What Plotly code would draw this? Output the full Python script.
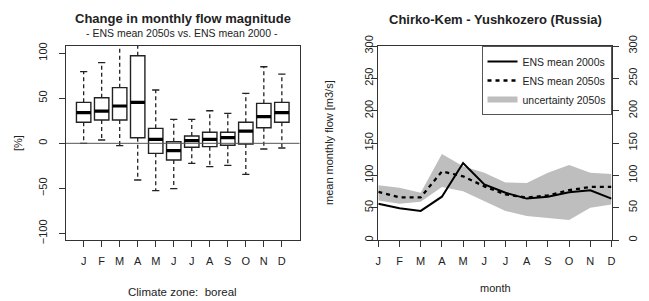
import plotly.graph_objects as go

# ---------------- data ----------------
months = list(range(1, 13))
month_labels = ["J", "F", "M", "A", "M", "J", "J", "A", "S", "O", "N", "D"]

# left: change in monthly flow magnitude [%] (box statistics)
box_low = [0, 3.7, -2.6, -40.7, -52.5, -50.3, -22.2, -25.9, -24.4, -34.4, -6.3, -5.2]
box_q1 = [23.3, 25.8, 25.8, 6.2, -11.1, -18.5, -4.4, -3.7, -2.2, -0.8, 17.3, 23.3]
box_med = [34, 35.8, 41.4, 45.4, 4.4, -8.2, 2.9, 4.4, 6.2, 13.6, 29.5, 34]
box_q3 = [45.4, 50.6, 61.7, 97.1, 16.6, 1.8, 8.1, 12.2, 12.2, 23.3, 44.3, 45.4]
box_high = [79.4, 89.4, 125, 112, 59.1, 26.6, 26.6, 36.1, 33.3, 55.4, 84.9, 76.8]

# right: mean monthly flow [m3/s]
ens_2000s = [56, 49, 45, 67, 119, 86, 73, 64, 67, 74, 77, 64]
ens_2050s = [74.5, 66, 66, 106, 98.5, 83, 70.5, 65.5, 69, 77, 82, 82]
unc_high = [84.7, 80.7, 73, 133, 114, 104, 89, 88, 104, 116, 104, 102]
unc_low = [61, 56, 59, 82, 75.5, 60, 45, 37, 33.6, 31, 50, 55]

left_yticks = [-100, -50, 0, 50, 100]
right_yticks = [0, 50, 100, 150, 200, 250, 300]

# ---------------- style ----------------
FONT = "Liberation Sans, Arial, sans-serif"
INK = "#222222"
BOXW = 0.8
CAPW = 0.4

fig = go.Figure()

# whiskers (dashed)
wx, wy = [], []
for m, lo, a, b, hi in zip(months, box_low, box_q1, box_q3, box_high):
    wx += [m, m, None, m, m, None]
    wy += [b, hi, None, a, lo, None]
fig.add_trace(go.Scatter(x=wx, y=wy, mode="lines", xaxis="x", yaxis="y",
                         line=dict(color=INK, width=1.3, dash="4px,3px"),
                         showlegend=False, hoverinfo="skip"))
# caps
cx, cy = [], []
for m, lo, hi in zip(months, box_low, box_high):
    cx += [m - CAPW / 2, m + CAPW / 2, None, m - CAPW / 2, m + CAPW / 2, None]
    cy += [hi, hi, None, lo, lo, None]
fig.add_trace(go.Scatter(x=cx, y=cy, mode="lines", xaxis="x", yaxis="y",
                         line=dict(color=INK, width=1.3),
                         showlegend=False, hoverinfo="skip"))
# boxes
fig.add_trace(go.Box(x=months, q1=box_q1, median=box_med, q3=box_q3,
                     lowerfence=box_q1, upperfence=box_q3,
                     width=BOXW, fillcolor="white",
                     line=dict(color=INK, width=1.4),
                     whiskerwidth=0, boxpoints=False,
                     xaxis="x", yaxis="y", showlegend=False, hoverinfo="skip"))
# thick medians
mx, my = [], []
for m, md in zip(months, box_med):
    mx += [m - BOXW / 2, m + BOXW / 2, None]
    my += [md, md, None]
fig.add_trace(go.Scatter(x=mx, y=my, mode="lines", xaxis="x", yaxis="y",
                         line=dict(color="black", width=3.2),
                         showlegend=False, hoverinfo="skip"))

# right: uncertainty band
fig.add_trace(go.Scatter(x=months, y=unc_low, mode="lines", xaxis="x2", yaxis="y2",
                         line=dict(width=0, color="#BEBEBE"),
                         showlegend=False, hoverinfo="skip"))
fig.add_trace(go.Scatter(x=months, y=unc_high, mode="lines", xaxis="x2", yaxis="y2",
                         line=dict(width=0, color="#BEBEBE"), fill="tonexty",
                         fillcolor="#BEBEBE", showlegend=False, hoverinfo="skip"))
fig.add_trace(go.Scatter(x=months, y=ens_2000s, mode="lines", xaxis="x2", yaxis="y2",
                         line=dict(color="black", width=2), name="ENS mean 2000s"))
fig.add_trace(go.Scatter(x=months, y=ens_2050s, mode="lines", xaxis="x2", yaxis="y2",
                         line=dict(color="black", width=2.3, dash="4px,4px"),
                         name="ENS mean 2050s"))
fig.add_trace(go.Scatter(x=[None], y=[None], mode="lines", xaxis="x2", yaxis="y2",
                         line=dict(color="#BEBEBE", width=6), name="uncertainty 2050s"))
# invisible trace that carries the right-hand axis
fig.add_trace(go.Scatter(x=months, y=ens_2000s, mode="lines", xaxis="x2", yaxis="y3",
                         line=dict(width=0), opacity=0, showlegend=False, hoverinfo="skip"))

W, H = 649, 301
yd = [(H - 240) / H, (H - 46) / H]

tickfont = dict(family=FONT, size=11, color=INK)
common_ax = dict(showline=True, linecolor="#333333", linewidth=1.3, ticks="outside",
                 ticklen=6, tickwidth=1, tickcolor="#333333", showgrid=False,
                 zeroline=False, tickfont=tickfont, automargin=False)

fig.update_layout(
    width=W, height=H, margin=dict(l=0, r=0, t=0, b=0, pad=0, autoexpand=False),
    paper_bgcolor="white", plot_bgcolor="white",
    font=dict(family=FONT, color=INK),
    xaxis=dict(domain=[66 / W, 299.5 / W], range=[0.02, 12.98], anchor="y",
               tickvals=months, ticktext=month_labels, mirror=True,
               ticklabelstandoff=5, **common_ax),
    yaxis=dict(domain=yd, range=[-107.2, 107.9], anchor="x",
               tickvals=left_yticks, tickangle=-90, mirror=True,
               ticklabelstandoff=7, **common_ax),
    xaxis2=dict(domain=[378.3 / W, 611.5 / W], range=[1, 12], anchor="y2",
                tickvals=months, ticktext=month_labels, mirror=True,
                ticklabelstandoff=5, **common_ax),
    yaxis2=dict(domain=yd, range=[0, 300], anchor="x2",
                tickvals=right_yticks, tickangle=-90, mirror=True,
                ticklabelstandoff=-6, **common_ax),
    yaxis3=dict(overlaying="y2", side="right", anchor="x2", range=[0, 300],
                tickvals=right_yticks, tickangle=-90,
                ticklabelstandoff=5, **common_ax),
    showlegend=True,
    legend=dict(x=611.5 / W, xanchor="right", y=yd[1], yanchor="top",
                traceorder="normal",
                bgcolor="white", bordercolor="#555555", borderwidth=1,
                font=dict(family=FONT, size=10.5, color=INK), tracegroupgap=0,
                itemwidth=30),
    shapes=[dict(type="line", xref="x domain", x0=0, x1=1, yref="y", y0=0, y1=0,
                 line=dict(color="#555555", width=1), layer="above")],
)

ann = [
    dict(text="<b>Change in monthly flow magnitude</b>", x=183 / W, y=1 - 19 / H,
         font=dict(size=13)),
    dict(text="- ENS mean 2050s vs. ENS mean 2000 -", x=182 / W, y=1 - 33 / H,
         font=dict(size=10.5)),
    dict(text="<b>Chirko-Kem - Yushkozero (Russia)</b>", x=495 / W, y=1 - 20 / H,
         font=dict(size=13)),
    dict(text="Climate zone:  boreal", x=183 / W, y=1 - 292 / H, font=dict(size=11.5)),
    dict(text="month", x=495 / W, y=1 - 288 / H, font=dict(size=11)),
    dict(text="[%]", x=18 / W, y=1 - 143 / H, textangle=-90, font=dict(size=11)),
    dict(text="mean monthly flow [m3/s]", x=329 / W, y=1 - 143 / H, textangle=-90,
         font=dict(size=11)),
]
for a in ann:
    a.update(xref="paper", yref="paper", showarrow=False, xanchor="center",
             yanchor="middle")
    a["font"].update(family=FONT, color=INK)
fig.update_layout(annotations=ann)

fig.write_html("out.html", config={"displayModeBar": False},
               post_script="document.body.style.margin='0';")
